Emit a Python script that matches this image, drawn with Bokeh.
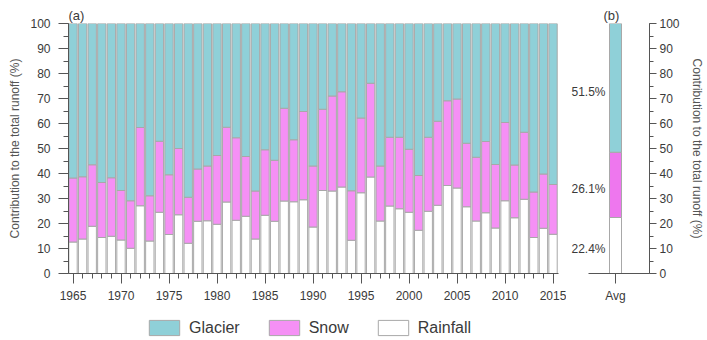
from bokeh.plotting import figure
from bokeh.layouts import row, column
from bokeh.models import (ColumnDataSource, Legend, LegendItem, FixedTicker, Range1d,
                          LinearAxis)
from bokeh.embed import file_html
from bokeh.resources import INLINE

years = list(range(1965, 2016))
rainfall = [12.6, 13.8, 18.9, 14.4, 14.9, 13.4, 10.1, 27.1, 13.0, 24.5,
            15.6, 23.5, 12.1, 20.9, 21.1, 19.7, 28.6, 21.3, 22.9, 13.8,
            23.3, 20.9, 29.0, 28.7, 29.5, 18.6, 33.2, 33.0, 34.6, 13.3,
            32.3, 38.6, 21.0, 27.0, 25.9, 24.5, 17.3, 24.9, 27.3, 35.2,
            34.2, 26.7, 21.0, 24.3, 18.2, 29.1, 22.3, 29.7, 14.4, 18.1, 15.7]
snow_top = [38.2, 38.7, 43.5, 36.4, 38.3, 33.2, 29.1, 58.4, 31.1, 52.9,
            39.5, 50.0, 30.5, 41.8, 43.0, 47.2, 58.5, 54.3, 46.8, 33.0,
            49.5, 45.3, 66.1, 53.5, 64.8, 43.0, 65.7, 71.0, 72.7, 33.1,
            62.2, 76.1, 43.0, 54.5, 54.5, 49.7, 39.2, 54.5, 60.9, 69.1,
            69.8, 52.1, 46.5, 52.8, 43.6, 60.4, 43.4, 56.5, 32.6, 39.8, 35.6]
snow = [round(s - r, 1) for s, r in zip(snow_top, rainfall)]
glacier = [round(100 - s, 1) for s in snow_top]

avg_labels = ["Avg"]
avg_rainfall = [22.4]
avg_snow = [26.1]
avg_glacier = [51.5]

series = ["Glacier", "Snow", "Rainfall"]

GLACIER = "#8fd0d8"
SNOW = "#f590f5"
SNOW_B = "#ee77ee"
RAIN = "#ffffff"
EDGE = "#a8a8a8"
FONT = "Liberation Sans"
TXT = "#3a3a3a"

def style_axis(ax, major=10, minor=5):
    ax.axis_line_color = "#555555"
    ax.major_tick_line_color = "#555555"
    ax.minor_tick_line_color = "#555555"
    ax.major_tick_in = 0
    ax.major_tick_out = major
    ax.minor_tick_in = 0
    ax.minor_tick_out = minor
    ax.major_label_text_font = FONT
    ax.major_label_text_font_size = "12px"
    ax.major_label_text_color = TXT
    ax.axis_label_text_font = FONT
    ax.axis_label_text_font_size = "12px"
    ax.axis_label_text_font_style = "normal"
    ax.axis_label_text_color = "#555555"

def style_title(p):
    p.title.text_font = FONT
    p.title.text_font_size = "13px"
    p.title.text_font_style = "normal"
    p.title.text_color = TXT
    p.title.standoff = 1

# ---------- panel (a) ----------
src = ColumnDataSource(dict(x=years, Rainfall=rainfall, Snow=snow, Glacier=glacier))
pa = figure(frame_width=490, frame_height=250, output_backend="svg", toolbar_location=None,
            x_range=Range1d(1964.53, 2015.57), y_range=Range1d(0, 100),
            title="(a)",
            min_border_left=68, min_border_right=8, min_border_top=23, min_border_bottom=37)
style_title(pa)
pa.title.offset = 0
pa.outline_line_color = None
pa.grid.visible = False
r = pa.vbar_stack(["Rainfall", "Snow", "Glacier"], x="x", width=0.87, source=src,
                  fill_color=[RAIN, SNOW, GLACIER], line_color=EDGE, line_width=1)
pa.xaxis.ticker = FixedTicker(ticks=list(range(1965, 2016, 5)), minor_ticks=years)
pa.yaxis.ticker = FixedTicker(ticks=list(range(0, 101, 10)), minor_ticks=list(range(0, 101, 5)))
pa.yaxis.axis_label = "Contribution to the total runoff (%)"
for ax in pa.xaxis + pa.yaxis:
    style_axis(ax)
pa.xaxis.major_label_standoff = 7
pa.yaxis.major_label_standoff = 8
pa.yaxis.axis_label_standoff = 5

# ---------- panel (b) ----------
bw = 1.0
srcb = ColumnDataSource(dict(x=[0], Rainfall=avg_rainfall, Snow=avg_snow, Glacier=avg_glacier))
pb = figure(frame_width=61, frame_height=250, output_backend="svg", toolbar_location=None,
            x_range=Range1d(-27 / 12, 34 / 12), y_range=Range1d(0, 100),
            y_axis_location="right", title="(b)",
            min_border_left=22, min_border_right=58, min_border_top=23, min_border_bottom=37)
style_title(pb)
pb.title.offset = 15
pb.outline_line_color = None
pb.grid.visible = False
pb.vbar_stack(["Rainfall", "Snow", "Glacier"], x="x", width=bw, source=srcb,
              fill_color=[RAIN, SNOW_B, GLACIER], line_color=EDGE, line_width=1)
pb.xaxis.ticker = FixedTicker(ticks=[0])
pb.xaxis.major_label_overrides = {0: avg_labels[0]}
pb.yaxis.ticker = FixedTicker(ticks=list(range(0, 101, 10)), minor_ticks=list(range(0, 101, 5)))
pb.yaxis.axis_label = "Contribution to the total runoff (%)"
for ax in pb.xaxis:
    style_axis(ax, 10, 5)
for ax in pb.yaxis:
    style_axis(ax, 7, 4)
pb.xaxis.major_label_standoff = 5
pb.yaxis.major_label_standoff = 3
pb.yaxis.axis_label_standoff = 7

# percentage annotations of the average bar, drawn as a label-only axis
bottoms = [0, avg_rainfall[0], avg_rainfall[0] + avg_snow[0]]
vals = [avg_rainfall[0], avg_snow[0], avg_glacier[0]]
pos = [b + v / 2 - 1.5 for b, v in zip(bottoms, vals)]
pct_axis = LinearAxis(ticker=FixedTicker(ticks=pos, minor_ticks=[]),
                      major_label_overrides={p_: f"{v:.1f}%" for p_, v in zip(pos, vals)},
                      axis_line_color=None, major_tick_line_color=None,
                      minor_tick_line_color=None, major_label_standoff=-23,
                      major_label_text_font=FONT, major_label_text_font_size="12px",
                      major_label_text_color=TXT)
pb.add_layout(pct_axis, "left")

# ---------- legend strip ----------
leg = figure(width=707, height=30, output_backend="svg", toolbar_location=None,
             x_axis_type=None, y_axis_type=None, min_border=0,
             x_range=Range1d(0, 1), y_range=Range1d(0, 1))
leg.outline_line_color = None
leg.grid.visible = False
fills = {"Glacier": GLACIER, "Snow": SNOW, "Rainfall": RAIN}
items = []
for name in series:
    s = ColumnDataSource(dict(x=[-5.0], top=[-5.0]))  # off-canvas, only for the legend key
    rr = leg.vbar(x="x", top="top", width=0.1, source=s,
                  fill_color=fills[name], line_color=EDGE)
    items.append(LegendItem(label=name, renderers=[rr]))
legend = Legend(items=items, orientation="horizontal", location=(145, 3),
                glyph_width=38, glyph_height=19, label_standoff=6, spacing=25,
                margin=0, padding=3, border_line_color=None, background_fill_alpha=0,
                label_text_font=FONT, label_text_font_size="16px", label_text_color=TXT)
leg.add_layout(legend, "center")

layout = column(row(pa, pb), leg)
open("out.html", "w").write(file_html(layout, INLINE))
